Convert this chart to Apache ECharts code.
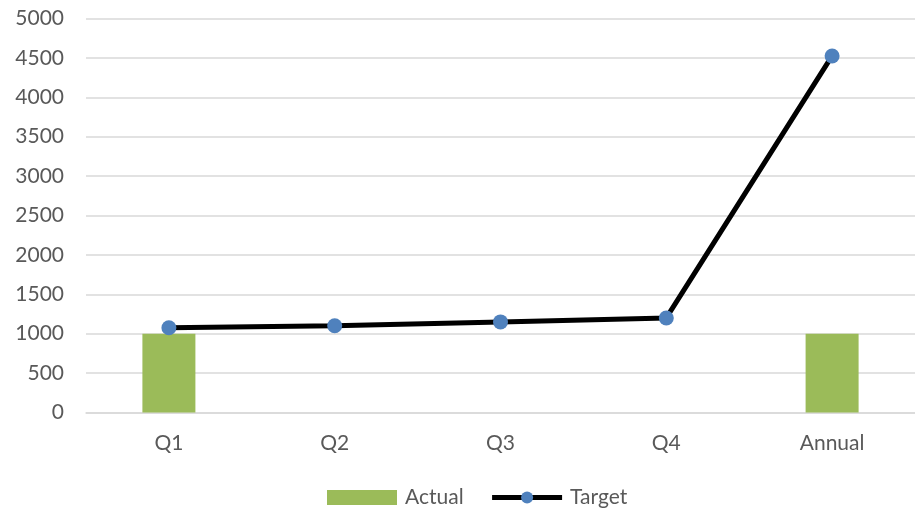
<!DOCTYPE html>
<html>
<head>
<meta charset="utf-8">
<script src="https://cdn.jsdelivr.net/npm/echarts@6/dist/echarts.min.js"></script>
<style>
  html, body { margin: 0; padding: 0; background: #fff; }
  #chart { width: 915px; height: 511px; }
</style>
</head>
<body>
<div id="chart"></div>
<script>
var categories = ['Q1', 'Q2', 'Q3', 'Q4', 'Annual']
var actual = [1000, null, null, null, 1000]
var target = [1075, 1100, 1150, 1200, 4525]

var font = 'Lato'
var textColor = '#595959'

var chart = echarts.init(document.getElementById('chart'))
chart.setOption({
  backgroundColor: '#fff',
  animation: false,
  grid: { left: 86, top: 18.5, width: 836, height: 394 },
  legend: {
    bottom: -2,
    left: 322,
    itemWidth: 70,
    itemHeight: 15,
    itemGap: 26,
    textStyle: { fontFamily: font, fontSize: 21, color: textColor, padding: [0, 0, 0, 3] },
    data: [
      { name: 'Actual', icon: 'rect' },
      { name: 'Target', lineStyle: { width: 5, color: '#000' } }
    ]
  },
  xAxis: {
    type: 'category',
    data: categories,
    axisLine: { lineStyle: { color: '#d9d9d9', width: 1.5 } },
    axisTick: { show: false },
    axisLabel: { fontFamily: font, fontSize: 21, color: textColor, margin: 20 }
  },
  yAxis: {
    type: 'value',
    min: 0,
    max: 5000,
    interval: 500,
    axisLine: { show: false },
    axisTick: { show: false },
    splitLine: { lineStyle: { color: '#d9d9d9', width: 1.5 } },
    axisLabel: {
      fontFamily: font, fontSize: 21, color: textColor, margin: 22,
      formatter: function (v) { return String(v) }
    }
  },
  series: [
    {
      name: 'Actual',
      type: 'bar',
      data: actual,
      barWidth: 53,
      itemStyle: { color: '#9bbb59' }
    },
    {
      name: 'Target',
      type: 'line',
      data: target,
      symbol: 'circle',
      symbolSize: 15,
      lineStyle: { color: '#000', width: 5 },
      itemStyle: { color: '#4f81bd' },
      z: 3
    }
  ]
})
</script>
</body>
</html>
